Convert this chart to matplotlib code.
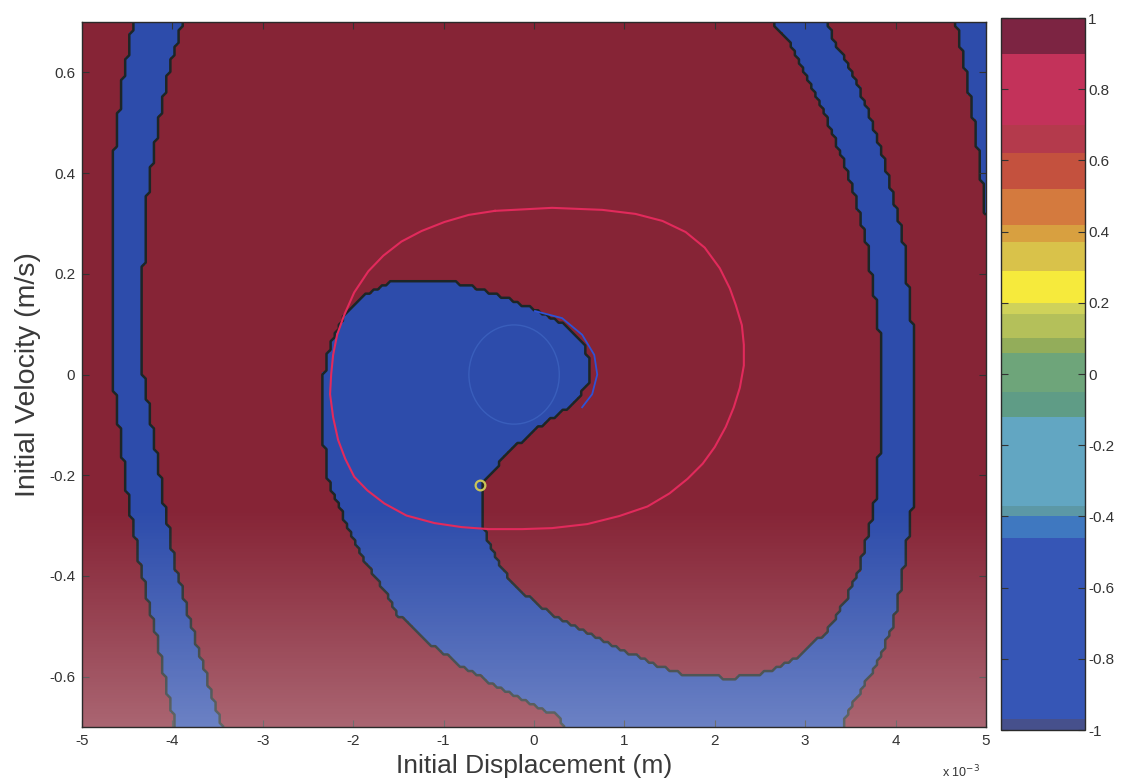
import numpy as np
import matplotlib
matplotlib.use("Agg")
import matplotlib.pyplot as plt
from matplotlib.path import Path
from matplotlib.colors import ListedColormap, BoundaryNorm
from matplotlib.patches import Ellipse
from matplotlib.ticker import FixedLocator, FuncFormatter
import matplotlib.cm as cm

plt.rcParams['font.family'] = ['Liberation Sans', 'DejaVu Sans']

# ---------------------------------------------------------------------------
# Basin boundaries (displacement in units of 1e-3 m, velocity in m/s)
# ---------------------------------------------------------------------------
x_range = (-5.0, 5.0)
v_range = (-0.7, 0.7)

# left strip of the "-1" basin, edges listed at increasing velocity
left_strip_v = [-0.75, -0.699, -0.642, -0.512, -0.380, -0.248, -0.118, 0.000,
                0.197, 0.329, 0.461, 0.591, 0.699, 0.75]
left_strip_lo = [-3.93, -3.967, -4.044, -4.189, -4.356, -4.489, -4.578, -4.667,
                 -4.678, -4.667, -4.633, -4.544, -4.433, -4.38]
left_strip_hi = [-3.39, -3.444, -3.556, -3.767, -3.967, -4.100, -4.211, -4.322,
                 -4.322, -4.300, -4.189, -4.056, -3.889, -3.81]

# narrow strip in the upper right corner
corner_x = [4.64, 4.667, 4.789, 4.90, 4.97, 5.03, 5.3, 5.3]
corner_v = [0.75, 0.699, 0.591, 0.461, 0.362, 0.28, 0.28, 0.75]

# spiral arm: inner edge of right band (top to bottom)
arm_inner_x = [2.55, 2.644, 2.833, 3.011, 3.200, 3.344, 3.478, 3.589, 3.678, 3.733,
               3.789, 3.833, 3.844, 3.833, 3.789, 3.700, 3.611, 3.456, 3.233, 2.944,
               2.567, 2.200, 1.833]
arm_inner_v = [0.75, 0.699, 0.657, 0.591, 0.526, 0.461, 0.394, 0.329, 0.264, 0.197,
               0.132, 0.067, 0.000, -0.118, -0.236, -0.315, -0.380, -0.445, -0.512,
               -0.557, -0.591, -0.602, -0.600]
# inner edge of the tail, up to the saddle
tail_inner_x = [1.644, 1.278, 0.900, 0.533, 0.167, -0.133, -0.322, -0.467, -0.556, -0.589]
tail_inner_v = [-0.596, -0.571, -0.541, -0.508, -0.472, -0.433, -0.394, -0.346, -0.307, -0.228]
# edge of the core lobe, from the saddle round the nose and over the top
core_x = [-0.544, -0.389, -0.211, 0.011, 0.278, 0.500, 0.611, 0.611, 0.556, 0.389,
          0.089, -0.167, -0.544, -0.911, -1.278, -1.611, -1.878, -2.100, -2.244,
          -2.322, -2.333, -2.267]
core_v = [-0.211, -0.177, -0.144, -0.110, -0.079, -0.045, -0.012, 0.020, 0.059, 0.093,
          0.122, 0.142, 0.167, 0.185, 0.187, 0.181, 0.157, 0.118, 0.067,
          0.000, -0.118, -0.217]
# outer edge of the tail down to the bottom
tail_outer_x = [-2.111, -1.933, -1.744, -1.556, -1.500, -1.133, -0.767, -0.389, -0.022, 0.278, 0.50]
tail_outer_v = [-0.281, -0.354, -0.406, -0.459, -0.478, -0.537, -0.583, -0.622, -0.656, -0.679, -0.75]
# outer edge of the right band (bottom to top)
arm_outer_x = [3.35, 3.456, 3.567, 3.789, 3.944, 4.033, 4.122, 4.200, 4.222, 4.200,
               4.200, 4.167, 4.122, 4.089, 4.011, 3.922, 3.811, 3.700, 3.533, 3.344,
               3.233, 3.15]
arm_outer_v = [-0.75, -0.679, -0.642, -0.577, -0.512, -0.445, -0.346, -0.248, -0.118, 0.014,
               0.067, 0.132, 0.197, 0.264, 0.329, 0.394, 0.461, 0.526, 0.591, 0.657,
               0.699, 0.75]

# periodic orbit (red), small orbit arc (blue), inner circle and saddle point
orbit_x = [-0.433, 0.200, 0.756, 1.122, 1.422, 1.678, 1.889, 2.056, 2.167, 2.233, 2.300,
           2.322, 2.322, 2.278, 2.211, 2.122, 2.000, 1.867, 1.700, 1.500, 1.256, 0.944,
           0.589, 0.200, -0.133, -0.500, -0.800, -1.100, -1.411, -1.656, -1.844, -1.989,
           -2.089, -2.167, -2.222, -2.256, -2.244, -2.222, -2.178, -2.100, -1.989, -1.833,
           -1.667, -1.467, -1.244, -0.989, -0.722, -0.433]
orbit_v = [0.325, 0.331, 0.327, 0.319, 0.305, 0.283, 0.252, 0.211, 0.171, 0.138, 0.098,
           0.059, 0.018, -0.026, -0.065, -0.104, -0.144, -0.177, -0.207, -0.236, -0.262,
           -0.281, -0.297, -0.305, -0.307, -0.307, -0.303, -0.295, -0.280, -0.256, -0.230,
           -0.203, -0.167, -0.130, -0.085, -0.039, 0.000, 0.039, 0.079, 0.118, 0.163,
           0.205, 0.236, 0.264, 0.285, 0.303, 0.317, 0.325]
arc_x = [0.011, 0.311, 0.533, 0.667, 0.700, 0.644, 0.533]
arc_v = [0.126, 0.112, 0.079, 0.039, 0.000, -0.039, -0.065]
inner_center = (-0.22, 0.0)
inner_size = (1.0, 0.197)
saddle = (-0.600, -0.220)

x_ticks = [-5, -4, -3, -2, -1, 0, 1, 2, 3, 4, 5]
v_ticks = [-0.6, -0.4, -0.2, 0, 0.2, 0.4, 0.6]
c_ticks = [-1, -0.8, -0.6, -0.4, -0.2, 0, 0.2, 0.4, 0.6, 0.8, 1]

# colour bar bands
cbar_edges = [-1.0, -0.97, -0.46, -0.40, -0.37, -0.12, -0.05, 0.06, 0.10, 0.17, 0.20,
              0.29, 0.37, 0.42, 0.52, 0.62, 0.70, 0.90, 1.0]
cbar_colors = ['#46508c', '#3656b6', '#3f78c0', '#5c98a6', '#62a6c2', '#5f9c86',
               '#6ea57a', '#93ad5a', '#b4c05a', '#cfd25a', '#f6ea3c', '#d9c24a',
               '#d8a040', '#d47a3e', '#c4513e', '#b43a4c', '#c3325a', '#7c2442']

# ---------------------------------------------------------------------------
# Rasterise the basins onto the initial-condition grid
# ---------------------------------------------------------------------------
xs = np.linspace(x_range[0], x_range[1], 221)
vs = np.linspace(v_range[0], v_range[1], 171)
X, V = np.meshgrid(xs, vs)
pts = np.column_stack([X.ravel(), V.ravel()])

left_poly = list(zip(left_strip_lo, left_strip_v)) + list(zip(left_strip_hi, left_strip_v))[::-1]
corner_poly = list(zip(corner_x, corner_v))
arm_poly = (list(zip(arm_inner_x, arm_inner_v)) + list(zip(tail_inner_x, tail_inner_v))
            + list(zip(core_x, core_v)) + list(zip(tail_outer_x, tail_outer_v))
            + list(zip(arm_outer_x, arm_outer_v)))

inside = np.zeros(len(pts), dtype=bool)
for poly in (left_poly, corner_poly, arm_poly):
    inside |= Path(np.array(poly)).contains_points(pts)
Z = np.where(inside, -1.0, 1.0).reshape(X.shape)

# ---------------------------------------------------------------------------
fig = plt.figure(figsize=(11.27, 7.81), dpi=100)
ax = fig.add_axes([0.0728, 0.0691, 0.802, 0.9027])
cax = fig.add_axes([0.888, 0.0653, 0.075, 0.9116])

field_cmap = ListedColormap(['#2d4cab', '#862436'])
ax.pcolormesh(X * 1e-3, V, Z, cmap=field_cmap, vmin=-1, vmax=1, shading='nearest', zorder=0)
ax.contour(X * 1e-3, V, Z, levels=[0], colors='#1c2626', linewidths=1.8, zorder=1)

# scanner-like fading towards the lower part of the plot
vv = np.linspace(v_range[1], v_range[0], 300)
alpha = np.clip((-0.26 - vv) / 0.44, 0, 1) ** 1.1 * 0.3
haze = np.ones((300, 2, 4))
haze[:, :, 3] = alpha[:, None]
ax.imshow(haze, extent=[x_range[0] * 1e-3, x_range[1] * 1e-3, v_range[0], v_range[1]],
          aspect='auto', zorder=2, interpolation='bilinear')

ax.plot(np.array(orbit_x) * 1e-3, orbit_v, color='#e22a5c', lw=1.5, zorder=4)
ax.plot(np.array(arc_x) * 1e-3, arc_v, color='#2e52d6', lw=1.3, zorder=4)
ax.add_patch(Ellipse((inner_center[0] * 1e-3, inner_center[1]), inner_size[0] * 1e-3,
                     inner_size[1], fill=False, ec='#4670cc', lw=1.0, alpha=0.5, zorder=3))
ax.plot([saddle[0] * 1e-3], [saddle[1]], 'o', ms=7, mfc='none', mec='#c9c458', mew=1.6, zorder=5)

ax.set_xlim(x_range[0] * 1e-3, x_range[1] * 1e-3)
ax.set_ylim(*v_range)
ax.xaxis.set_major_locator(FixedLocator(np.array(x_ticks) * 1e-3))
ax.xaxis.set_major_formatter(FuncFormatter(lambda v, p: f"{v * 1e3:g}"))
ax.yaxis.set_major_locator(FixedLocator(v_ticks))
ax.yaxis.set_major_formatter(FuncFormatter(lambda v, p: f"{v:g}"))
ax.tick_params(direction='in', length=5, width=0.8, top=True, right=True,
               labelsize=11, colors='#333333', pad=5)
for s in ax.spines.values():
    s.set_color('#2a2a2a')
    s.set_linewidth(1.0)

ax.set_xlabel('Initial Displacement (m)', fontsize=19, color='#3a3a3a', labelpad=4)
ax.set_ylabel('Initial Velocity (m/s)', fontsize=20.5, color='#3a3a3a', labelpad=6)
ax.text(0.993, -0.071, r'x 10$^{-3}$', transform=ax.transAxes, fontsize=9,
        color='#333333', ha='right', va='baseline')

sm = cm.ScalarMappable(norm=BoundaryNorm(cbar_edges, len(cbar_colors)),
                       cmap=ListedColormap(cbar_colors))
cb = fig.colorbar(sm, cax=cax, ticks=c_ticks, spacing='proportional')
cb.ax.minorticks_off()
cb.ax.yaxis.set_major_formatter(FuncFormatter(lambda v, p: f"{v:g}"))
cb.ax.tick_params(direction='in', length=5, left=True, right=True, labelsize=11,
                  colors='#333333', pad=2)
cb.outline.set_edgecolor('#2a2a2a')
cb.outline.set_linewidth(1.0)

fig.savefig('out.png', dpi=100)
